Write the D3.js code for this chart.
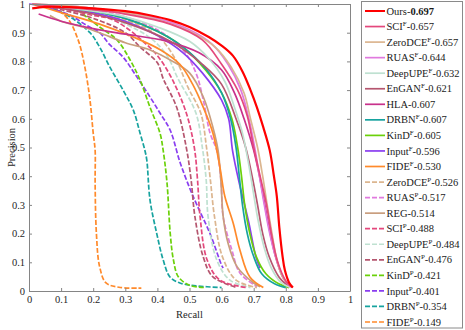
<!DOCTYPE html>
<html><head>
<meta charset="UTF-8">
<title>PR curves</title>
<script src="https://cdnjs.cloudflare.com/ajax/libs/d3/7.8.5/d3.min.js"></script>
<style>
  body { margin: 0; background: #fff; }
  svg text { font-family: "Times New Roman", "Liberation Serif", "DejaVu Serif", serif !important; }
</style>
</head>
<body>
<svg id="chart" width="465" height="330"></svg>
<script>
// ---- data: [recall, precision] points ----
const ours = [[0.01,0.985],[0.05,0.99],[0.1,0.99],[0.2,0.985],[0.3,0.975],[0.38,0.96],[0.44,0.944],[0.5,0.92],[0.56,0.885],[0.6,0.855],[0.635,0.82],[0.665,0.765],[0.69,0.70],[0.71,0.64],[0.73,0.57],[0.75,0.49],[0.763,0.40],[0.772,0.33],[0.78,0.22],[0.79,0.12],[0.797,0.073],[0.81,0.03],[0.822,0.012]];
const sciF = [[0.01,1],[0.1,0.99],[0.2,0.98],[0.3,0.965],[0.44,0.93],[0.54,0.875],[0.6,0.79],[0.65,0.70],[0.68,0.61],[0.7,0.5],[0.72,0.4],[0.74,0.3],[0.755,0.2],[0.775,0.1],[0.8,0.035],[0.82,0.012]];
const zeroF = [[0.01,1],[0.1,0.995],[0.2,0.985],[0.3,0.97],[0.4,0.945],[0.5,0.905],[0.58,0.85],[0.63,0.78],[0.67,0.69],[0.69,0.6],[0.712,0.5],[0.728,0.4],[0.742,0.3],[0.757,0.2],[0.772,0.11],[0.792,0.045],[0.822,0.012]];
const ruasF = [[0.01,1],[0.1,0.995],[0.2,0.985],[0.3,0.97],[0.4,0.95],[0.5,0.91],[0.57,0.86],[0.62,0.79],[0.66,0.7],[0.685,0.6],[0.703,0.5],[0.718,0.4],[0.733,0.3],[0.75,0.2],[0.768,0.12],[0.79,0.05],[0.815,0.014]];
const deepF = [[0.01,1],[0.1,0.99],[0.2,0.975],[0.3,0.955],[0.4,0.92],[0.5,0.87],[0.56,0.81],[0.61,0.73],[0.64,0.64],[0.665,0.55],[0.683,0.45],[0.698,0.35],[0.713,0.25],[0.733,0.15],[0.755,0.08],[0.785,0.03],[0.815,0.012]];
const enganF = [[0.01,1],[0.1,0.985],[0.2,0.965],[0.3,0.935],[0.44,0.87],[0.54,0.79],[0.6,0.72],[0.645,0.6],[0.675,0.5],[0.695,0.4],[0.712,0.3],[0.728,0.2],[0.748,0.12],[0.778,0.05],[0.81,0.014]];
const hla = [[0.03,0.965],[0.1,0.94],[0.22,0.91],[0.3,0.895],[0.43,0.87],[0.53,0.83],[0.6,0.77],[0.64,0.69],[0.67,0.6],[0.7,0.49],[0.718,0.4],[0.732,0.317],[0.748,0.22],[0.768,0.12],[0.79,0.05],[0.812,0.014]];
const drbnF = [[0.01,1],[0.1,0.99],[0.2,0.975],[0.3,0.95],[0.4,0.905],[0.48,0.85],[0.55,0.775],[0.6,0.69],[0.628,0.6],[0.645,0.5],[0.655,0.4],[0.665,0.3],[0.68,0.2],[0.7,0.12],[0.725,0.06],[0.765,0.025],[0.8,0.012]];
const kindF = [[0.01,1],[0.1,0.99],[0.2,0.975],[0.3,0.95],[0.4,0.905],[0.48,0.85],[0.55,0.77],[0.6,0.69],[0.632,0.6],[0.65,0.5],[0.662,0.4],[0.672,0.3],[0.688,0.2],[0.708,0.12],[0.738,0.06],[0.778,0.025],[0.81,0.012]];
const inputF = [[0.01,1],[0.1,0.99],[0.2,0.97],[0.3,0.94],[0.4,0.89],[0.48,0.83],[0.54,0.76],[0.6,0.665],[0.622,0.6],[0.634,0.49],[0.655,0.376],[0.668,0.317],[0.685,0.237],[0.707,0.118],[0.72,0.08]];
const fideF = [[0.01,1],[0.1,0.97],[0.22,0.93],[0.325,0.885],[0.41,0.84],[0.47,0.79],[0.51,0.72],[0.543,0.64],[0.573,0.55],[0.595,0.43],[0.61,0.33],[0.636,0.237],[0.657,0.143],[0.688,0.049],[0.73,0.012]];
const zeroP = [[0.01,1],[0.1,0.99],[0.2,0.975],[0.3,0.945],[0.4,0.89],[0.46,0.8],[0.495,0.71],[0.535,0.62],[0.553,0.5],[0.565,0.387],[0.578,0.258],[0.603,0.118],[0.645,0.038],[0.71,0.012]];
const ruasP = [[0.01,1],[0.1,0.99],[0.2,0.98],[0.3,0.955],[0.4,0.91],[0.48,0.84],[0.52,0.76],[0.543,0.665],[0.564,0.55],[0.585,0.49],[0.598,0.387],[0.605,0.258],[0.632,0.143],[0.657,0.063],[0.71,0.015]];
const reg = [[0.065,0.96],[0.1,0.94],[0.168,0.92],[0.22,0.9],[0.3,0.865],[0.377,0.84],[0.44,0.805],[0.5,0.76],[0.543,0.676],[0.573,0.57],[0.589,0.49],[0.598,0.38],[0.605,0.258],[0.62,0.167],[0.648,0.085],[0.7,0.028],[0.72,0.015]];
const sciP = [[0.01,1],[0.1,0.985],[0.2,0.96],[0.25,0.95],[0.3,0.92],[0.35,0.875],[0.4,0.82],[0.445,0.74],[0.49,0.62],[0.515,0.5],[0.525,0.387],[0.533,0.258],[0.555,0.108],[0.595,0.038],[0.68,0.012]];
const deepP = [[0.01,1],[0.1,0.99],[0.2,0.97],[0.3,0.93],[0.38,0.88],[0.43,0.82],[0.464,0.74],[0.52,0.62],[0.54,0.5],[0.552,0.387],[0.558,0.258],[0.585,0.108],[0.626,0.038],[0.69,0.012]];
const enganP = [[0.01,1],[0.1,0.98],[0.2,0.95],[0.3,0.9],[0.346,0.85],[0.4,0.795],[0.418,0.74],[0.46,0.64],[0.49,0.5],[0.505,0.387],[0.517,0.258],[0.543,0.118],[0.573,0.049],[0.648,0.012]];
const kindP = [[0.15,0.98],[0.22,0.92],[0.274,0.875],[0.315,0.805],[0.346,0.735],[0.377,0.64],[0.408,0.55],[0.418,0.49],[0.43,0.376],[0.44,0.2],[0.45,0.108],[0.465,0.05],[0.5,0.02],[0.55,0.012]];
const inputP = [[0.0,1],[0.05,0.99],[0.13,0.96],[0.18,0.925],[0.22,0.9],[0.25,0.86],[0.293,0.815],[0.336,0.746],[0.377,0.676],[0.408,0.62],[0.44,0.56],[0.47,0.45],[0.5,0.36],[0.523,0.3],[0.564,0.2],[0.6,0.09],[0.605,0.08]];
const drbnP = [[0.01,1],[0.07,0.985],[0.128,0.955],[0.19,0.9],[0.22,0.85],[0.252,0.78],[0.293,0.70],[0.325,0.63],[0.346,0.55],[0.361,0.49],[0.367,0.456],[0.377,0.317],[0.398,0.2],[0.418,0.108],[0.439,0.049],[0.47,0.028],[0.52,0.018],[0.6,0.012]];
const fideP = [[0.01,1],[0.07,0.99],[0.12,0.95],[0.153,0.875],[0.174,0.78],[0.19,0.665],[0.2,0.55],[0.206,0.49],[0.206,0.376],[0.21,0.2],[0.22,0.085],[0.24,0.028],[0.28,0.013],[0.35,0.01]];

const names = ["Ours","SCI","ZeroDCE","RUAS","DeepUPE","EnGAN","HLA","DRBN","KinD","Input","FIDE",
               "ZeroDCE","RUAS","REG","SCI","DeepUPE","EnGAN","KinD","Input","DRBN","FIDE"];
const sups = ["","F","F","F","F","F","","F","F","F","F","P","P","","P","P","P","P","P","P","P"];
const scores = ["0.697","0.657","0.657","0.644","0.632","0.621","0.607","0.607","0.605","0.596","0.530",
                "0.526","0.517","0.514","0.488","0.484","0.476","0.421","0.401","0.354","0.149"];
const curves = [ours,sciF,zeroF,ruasF,deepF,enganF,hla,drbnF,kindF,inputF,fideF,
                zeroP,ruasP,reg,sciP,deepP,enganP,kindP,inputP,drbnP,fideP];
const xTicks = d3.range(0, 1.01, 0.1);
const yTicks = d3.range(0, 1.01, 0.1);

// ---- styles ----
const colorOf = {Ours:"#ff0000", SCI:"#e4487c", ZeroDCE:"#dcb690", RUAS:"#e07ade", DeepUPE:"#bfe1d1",
  EnGAN:"#b5566f", HLA:"#c8318b", DRBN:"#17a39f", KinD:"#6bd10a", Input:"#8a3ef0", FIDE:"#ff8a2b", REG:"#c99e7e"};
const serif = "'Times New Roman', 'Liberation Serif', 'DejaVu Serif', serif";

const svg = d3.select("#chart").attr("font-family", serif);
const m = {l: 29, r: 115, t: 4, b: 39};
const W = 465 - m.l - m.r, H = 330 - m.t - m.b;
const x = d3.scaleLinear().domain([0, 1]).range([m.l, m.l + W]);
const y = d3.scaleLinear().domain([0, 1]).range([m.t + H, m.t]);

const fmt = d => d === 0 ? "0" : d >= 0.999 ? "1" : d3.format(".1f")(d);

// curves: dashed ones first, then solids, ours on top
const line = d3.line().x(d => x(d[0])).y(d => y(d[1])).curve(d3.curveCatmullRom.alpha(0.5));
const order = d3.range(curves.length).sort((a, b) => {
  const ka = a === 0 ? 2 : (sups[a] === "P" ? 0 : 1), kb = b === 0 ? 2 : (sups[b] === "P" ? 0 : 1);
  return ka - kb || b - a;
});
svg.append("g").selectAll("path").data(order).join("path")
  .attr("d", i => line(curves[i]))
  .attr("fill", "none")
  .attr("stroke", i => colorOf[names[i]])
  .attr("stroke-width", i => i === 0 ? 2.2 : 1.7)
  .attr("stroke-dasharray", i => sups[i] === "P" ? "5,2" : null);

// axes (box with inward ticks)
const axCol = "#858585";
function styleAxis(g) {
  g.attr("font-family", serif).attr("font-size", 10.5);
  g.select(".domain").attr("stroke", axCol);
  g.selectAll(".tick line").attr("stroke", axCol);
  g.selectAll(".tick text").attr("fill", "#262626");
}
svg.append("g").attr("transform", `translate(0,${m.t + H})`)
  .call(d3.axisBottom(x).tickValues(xTicks).tickFormat(fmt).tickSizeInner(-3).tickSizeOuter(0).tickPadding(5))
  .call(styleAxis);
svg.append("g").attr("transform", `translate(0,${m.t})`)
  .call(d3.axisTop(x).tickValues(xTicks).tickFormat("").tickSizeInner(-3).tickSizeOuter(0))
  .call(styleAxis);
svg.append("g").attr("transform", `translate(${m.l},0)`)
  .call(d3.axisLeft(y).tickValues(yTicks).tickFormat(fmt).tickSizeInner(-3).tickSizeOuter(0).tickPadding(4))
  .call(styleAxis);
svg.append("g").attr("transform", `translate(${m.l + W},0)`)
  .call(d3.axisRight(y).tickValues(yTicks).tickFormat("").tickSizeInner(-3).tickSizeOuter(0))
  .call(styleAxis);

svg.append("text").attr("x", m.l + W / 2).attr("y", 318).attr("text-anchor", "middle")
  .attr("font-size", 10.5).attr("fill", "#262626").text("Recall");
svg.append("text").attr("transform", `translate(15,${m.t + H / 2}) rotate(-90)`).attr("text-anchor", "middle")
  .attr("font-size", 10.5).attr("fill", "#262626").text("Precision");

// legend
const lg = svg.append("g");
lg.append("rect").attr("x", 361.5).attr("y", 1.5).attr("width", 101).attr("height", 326.5)
  .attr("fill", "#fff").attr("stroke", "#8a8a8a").attr("stroke-width", 1);
const step = 15.55;
names.forEach((n, i) => {
  const cy = 11 + i * step;
  lg.append("line").attr("x1", 365).attr("x2", 385).attr("y1", cy).attr("y2", cy)
    .attr("stroke", colorOf[n]).attr("stroke-width", i === 0 ? 2 : 1.7)
    .attr("stroke-dasharray", sups[i] === "P" ? "5,2" : null);
  const t = lg.append("text").attr("x", 386.5).attr("y", cy + 3.6)
    .attr("font-size", 10.5).attr("fill", "#1a1a1a");
  t.append("tspan").text(n);
  if (sups[i]) t.append("tspan").attr("dy", -4).attr("font-size", 7).text(sups[i]);
  t.append("tspan").attr("dy", sups[i] ? 4 : 0).text("-");
  t.append("tspan").attr("font-weight", i === 0 ? "bold" : "normal").text(scores[i]);
});
</script>
</body>
</html>
